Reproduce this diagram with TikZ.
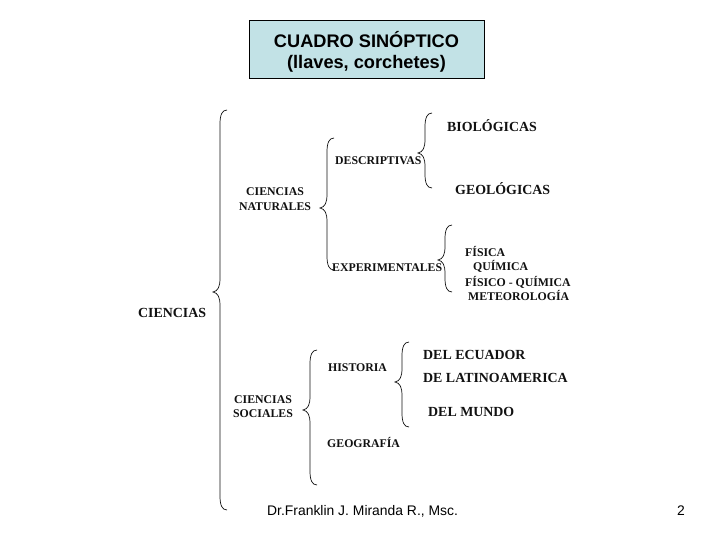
\documentclass[tikz,border=0pt]{standalone}
\usepackage{fontspec}
\setmainfont{Liberation Serif}
\setsansfont{Liberation Sans}
\usepackage{tikz}
\usepackage{xcolor}
\usetikzlibrary{positioning, calc}
\definecolor{cTitle}{HTML}{C2E2E6}
\definecolor{cText} {HTML}{111111}
\tikzset{
  item/.style={anchor=base west, inner sep=0pt, text=cText, font=\bfseries\fontsize{11.8}{14}\selectfont},
  hoja/.style={item, font=\bfseries\fontsize{13.9}{16}\selectfont},
  llave/.style={draw=cText, line width=0.7pt},
}
% brace: line x, top y, tip y, bottom y
\newcommand{\llave}[4]{%
  \draw[llave] (#1+7,#2) .. controls (#1+2,#2) and (#1,#2+5) .. (#1,#2+14) -- (#1,#3-14)
    .. controls (#1,#3-5) and (#1-2,#3-1) .. (#1-7,#3)
    .. controls (#1-2,#3+1) and (#1,#3+5) .. (#1,#3+14)
    -- (#1,#4-14) .. controls (#1,#4-5) and (#1+2,#4) .. (#1+7,#4);}
\begin{document}
\begin{tikzpicture}[x=1pt, y=-1pt]
  \useasboundingbox (0,0) rectangle (728,546);
  % title box
  \node[draw=black, fill=cTitle, line width=0.9pt, minimum width=235pt, minimum height=58pt]
       (titulo) at (366.5,49) {};
  \node[align=center, inner sep=0pt, font=\sffamily\bfseries\fontsize{18.2}{21}\selectfont]
       (tituloTxt) at (366.5,52) {CUADRO SINÓPTICO\\(llaves, corchetes)};
  % main level
  \node[hoja] (ciencias) at (138,317.5) {CIENCIAS};
  \llave{220}{110}{292}{510}
  \node[item, anchor=center, align=center, font=\bfseries\fontsize{11.8}{15}\selectfont]
       (cnat) at (275,199.5) {CIENCIAS\\NATURALES};
  \node[item, anchor=center, align=center, font=\bfseries\fontsize{11.8}{13.5}\selectfont]
       (csoc) at (263,406.5) {CIENCIAS\\SOCIALES};
  % ciencias naturales
  \llave{327}{138}{208}{270}
  \node[item] (desc) at (335,164) {DESCRIPTIVAS};
  \node[item] (exper) at (332,271) {EXPERIMENTALES};
  \llave{425}{113}{153}{188}
  \node[hoja] (bio) at (447,131.5) {BIOLÓGICAS};
  \node[hoja] (geo) at (455,194.5) {GEOLÓGICAS};
  \llave{445}{225}{260}{292}
  \foreach \n/\x/\y/\t in {fis/465/256/FÍSICA, qui/473/270/QUÍMICA,
                           fq/465/286/FÍSICO - QUÍMICA, met/468/300/METEOROLOGÍA}
    \node[item] (\n) at (\x,\y) {\t};
  % ciencias sociales
  \llave{310}{350}{410}{485}
  \node[item] (hist) at (328,371) {HISTORIA};
  \node[item] (geog) at (327,447) {GEOGRAFÍA};
  \llave{402}{342}{382}{427}
  \foreach \n/\x/\y/\t in {ecu/423/359.5/DEL ECUADOR, lat/423/382.5/DE LATINOAMERICA,
                           mun/428/416.5/DEL MUNDO}
    \node[hoja] (\n) at (\x,\y) {\t};
  % footer
  \node[anchor=base west, inner sep=0pt, font=\sffamily\fontsize{13.9}{16}\selectfont]
       (autor) at (267,515) {Dr.Franklin J. Miranda R., Msc.};
  \node[anchor=base west, inner sep=0pt, font=\sffamily\fontsize{13.9}{16}\selectfont]
       (pagina) at (677,515) {2};
\end{tikzpicture}
\end{document}
